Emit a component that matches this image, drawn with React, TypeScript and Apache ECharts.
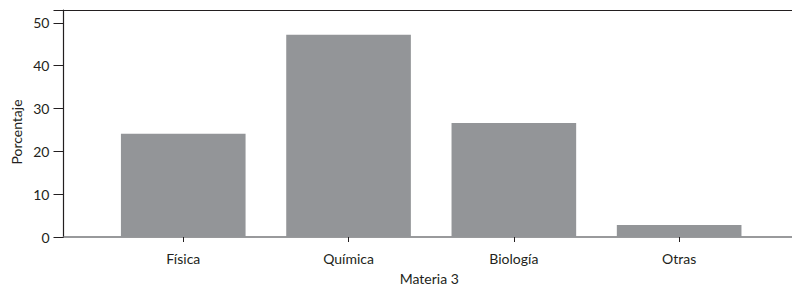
import React, { useEffect, useRef } from "react";
import * as echarts from "echarts";

const categories = ["Física", "Química", "Biología", "Otras"];
const values = [24.1, 47.2, 26.6, 2.8];
const yTicks = [0, 10, 20, 30, 40, 50];
const yMax = 53;

const FONT = "Lato";
const FS = 14;

export default function App() {
  const ref = useRef<HTMLDivElement>(null);
  useEffect(() => {
    if (!ref.current) return;
    const chart = echarts.init(ref.current, null, { renderer: "svg" });
    chart.setOption({
      animation: false,
      textStyle: { fontFamily: FONT },
      grid: [
        { left: 63.5, right: -3, top: 10, bottom: 48, outerBoundsMode: "none", containLabel: false },
        { left: 100.6, right: 30.2, top: 10, bottom: 48, outerBoundsMode: "none", containLabel: false },
      ],
      xAxis: [
        {
          gridIndex: 0,
          type: "value",
          min: 0,
          max: 1,
          position: "bottom",
          axisLine: { show: true, onZero: false, lineStyle: { color: "#77787b", width: 1.5 } },
          axisTick: { show: false },
          axisLabel: { show: false },
          splitLine: { show: false },
          name: "Materia 3",
          nameLocation: "middle",
          nameGap: 34,
          nameTextStyle: { fontFamily: FONT, fontSize: FS, color: "#231f20" },
        },
        {
          gridIndex: 0,
          type: "value",
          min: 0,
          max: 1,
          position: "top",
          axisLine: { show: true, onZero: false, lineStyle: { color: "#231f20", width: 1.2 } },
          axisTick: { show: false },
          axisLabel: { show: false },
          splitLine: { show: false },
        },
        {
          gridIndex: 1,
          type: "category",
          data: categories,
          position: "bottom",
          axisLine: { show: false },
          axisTick: { show: true, alignWithLabel: true, length: 5, lineStyle: { color: "#231f20", width: 1 } },
          axisLabel: { fontFamily: FONT, fontSize: FS, color: "#231f20", margin: 14 },
        },
      ],
      yAxis: [
        {
          gridIndex: 0,
          type: "value",
          min: 0,
          max: yMax,
          interval: 10,
          position: "left",
          axisLine: { show: true, onZero: false, lineStyle: { color: "#231f20", width: 1.2 } },
          axisTick: { show: true, inside: false, length: 10, lineStyle: { color: "#231f20", width: 1 } },
          axisLabel: {
            fontFamily: FONT,
            fontSize: FS,
            color: "#231f20",
            margin: 14,
            formatter: (v: number) => (yTicks.includes(v) ? String(v) : ""),
          },
          splitLine: { show: false },
        },
        {
          gridIndex: 1,
          type: "value",
          min: 0,
          max: yMax,
          show: false,
        },
      ],
      graphic: [
        {
          type: "text",
          x: 16,
          y: 132,
          rotation: Math.PI / 2,
          style: {
            text: "Porcentaje",
            fontFamily: FONT,
            fontSize: FS,
            fill: "#231f20",
            align: "center",
            verticalAlign: "middle",
          },
        },
      ],
      series: [
        {
          type: "bar",
          xAxisIndex: 2,
          yAxisIndex: 1,
          data: values,
          barCategoryGap: "24.6%",
          itemStyle: { color: "#939598" },
          z: 1,
        },
      ],
    });
    return () => chart.dispose();
  }, []);
  return <div ref={ref} style={{ width: 792, height: 285, position: "absolute", left: 0, top: 0 }} />;
}
